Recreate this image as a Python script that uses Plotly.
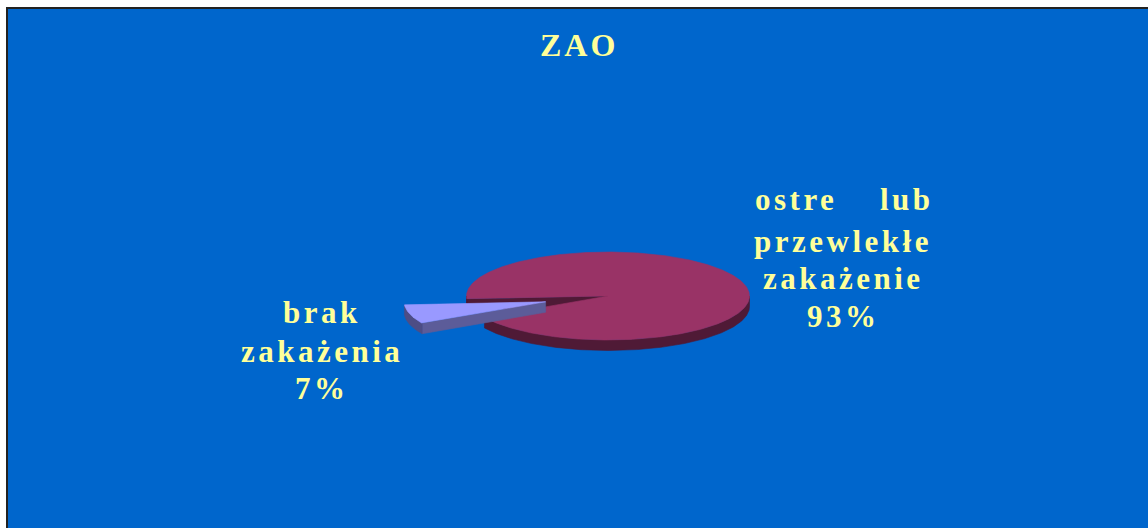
import numpy as np
import plotly.graph_objects as go

# --- data -------------------------------------------------------------
chart_title = "ZAO"
categories = ["ostre lub przewlekłe zakażenie", "brak zakażenia"]
shares = [93, 7]

# label lines drawn next to each slice (first line of the big slice is justified)
big_label_first = ["ostre", "lub"]
big_label_lines = ["przewlekłe", "zakażenie"]
small_label_lines = ["brak", "zakażenia"]

# --- styling / geometry ----------------------------------------------
W, H = 1148, 528
BG = "#0066CC"
TXT = "#FFFF99"
FONT = "Liberation Serif"

CX, CY = 608.0, 296.0          # pie centre (px)
RX, RY = 141.5, 44.0           # ellipse radii of the tilted top face
DEPTH = 10.5                   # extrusion of the 3-D side
EXPLODE = 0.46                 # pull-out of the small slice (fraction of radius)
START = 176.0                  # angle where the big slice starts (screen coords, clockwise)

top_colors = ["#993366", "#9999FF"]
rim_colors = ["#4F1A36", "#4D4D85"]
wall_colors = ["#4F1A36", "#5C5C99"]


def pt(t_deg, ox=0.0, oy=0.0, dz=0.0):
    t = np.radians(t_deg)
    return CX + ox + RX * np.cos(t), CY + oy + RY * np.sin(t) + dz


def arc(a0, a1, ox=0.0, oy=0.0, dz=0.0, n=None):
    n = n or max(2, int(abs(a1 - a0) * 2))
    ts = np.linspace(a0, a1, n)
    xs, ys = pt(ts, ox, oy, dz)
    return list(xs), list(ys)


def poly(xs, ys, color):
    return go.Scatter(x=xs + [xs[0]], y=ys + [ys[0]], mode="lines", fill="toself",
                      fillcolor=color, line=dict(color=color, width=0.6),
                      hoverinfo="skip", showlegend=False)


total = float(sum(shares))
spans = []
a = START
for v in shares:
    sweep = 360.0 * v / total
    spans.append((a, a + sweep))
    a += sweep

traces = []
for i, (a0, a1) in enumerate(spans):
    mid = np.radians((a0 + a1) / 2)
    e = EXPLODE if i == 1 else 0.0
    ox, oy = e * RX * np.cos(mid), e * RY * np.sin(mid)
    cx, cy = CX + ox, CY + oy

    # visible front part of the rim: angles whose sine is positive
    front = []
    k0 = np.floor(a0 / 360.0)
    for k in (k0, k0 + 1):
        lo, hi = max(a0, 360 * k), min(a1, 360 * k + 180)
        if hi > lo:
            front.append((lo, hi))

    # radial wall at the start edge of each slice faces the viewer
    wx, wy = pt(a0, ox, oy)
    traces.append(poly([cx, wx, wx, cx], [cy, wy, wy + DEPTH, cy + DEPTH], wall_colors[i]))

    for lo, hi in front:
        tx, ty = arc(lo, hi, ox, oy)
        bx, by = arc(hi, lo, ox, oy, DEPTH)
        traces.append(poly(tx + bx, ty + by, rim_colors[i]))

    tx, ty = arc(a0, a1, ox, oy)
    traces.append(poly([cx] + tx, [cy] + ty, top_colors[i]))

fig = go.Figure(traces)


def label(text, x, y, size=31, xanchor="center", spacing=3.5):
    return dict(x=x, y=y, xref="x", yref="y", showarrow=False,
                xanchor=xanchor, yanchor="middle",
                text=f"<b><span style='letter-spacing:{spacing}px'>{text}</span></b>",
                font=dict(family=FONT, size=size, color=TXT))


anns = [label(chart_title, 579, 45, size=32, spacing=3)]
# big slice label
anns.append(label(big_label_first[0], 753, 199, xanchor="left"))
anns.append(label(big_label_first[1], 936, 199, xanchor="right"))
for j, line in enumerate(big_label_lines + [f"{shares[0]}%"]):
    anns.append(label(line, 843, [241, 278, 316][j]))
# small slice label
for j, line in enumerate(small_label_lines + [f"{shares[1]}%"]):
    anns.append(label(line, 322, [312, 351, 388][j]))

fig.update_layout(
    width=W, height=H,
    margin=dict(l=0, r=0, t=0, b=0),
    paper_bgcolor="white", plot_bgcolor="white",
    xaxis=dict(range=[0, W], visible=False, fixedrange=True),
    yaxis=dict(range=[H, 0], visible=False, fixedrange=True),
    shapes=[dict(type="rect", xref="x", yref="y", x0=7, y0=8, x1=W + 5, y1=H + 5,
                 fillcolor=BG, line=dict(color="#222222", width=2), layer="below")],
    annotations=anns,
    showlegend=False,
)

fig.write_html("out.html")
